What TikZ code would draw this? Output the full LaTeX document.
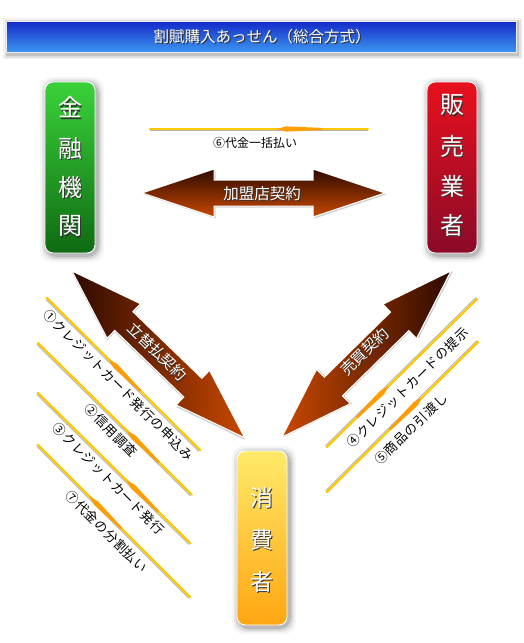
\documentclass[tikz,border=0pt]{standalone}
\usepackage{fontspec}
\setmainfont{Noto Sans CJK JP}
\newfontfamily\jpls[LetterSpace=6]{Noto Sans CJK JP}
\usetikzlibrary{calc}
\definecolor{brdark}{HTML}{2E0A00}
\definecolor{brlight}{HTML}{C84800}
\definecolor{grtop}{HTML}{3AD23A}
\definecolor{grbot}{HTML}{0F6A12}
\definecolor{rdtop}{HTML}{E8101E}
\definecolor{rdbot}{HTML}{8A0A28}
\definecolor{yltop}{HTML}{FFEA6A}
\definecolor{ylbot}{HTML}{FFA612}
\definecolor{bltop}{HTML}{1428C8}
\definecolor{blbot}{HTML}{3C96F0}
\definecolor{lnyel}{HTML}{FFC800}
\definecolor{lnorg}{HTML}{FF9E00}
\tikzset{
  boxst/.style={draw=white, line width=0.9pt, rounded corners=8pt, inner sep=0pt,
    minimum width=50pt},
  wtxt/.style={text=white, inner sep=0pt},
  ltxt/.style={text=black, inner sep=0pt, font=\jpls\fontsize{13}{13}\selectfont},
  arrowst/.style={draw=white, line width=1pt},
}
% glow shadow for a rectangle x1 y1 x2 y2
\newcommand\glow[4]{%
  \foreach \s/\o in {7/0.04,5/0.06,3.5/0.08,2/0.12}{%
    \fill[black,opacity=\o,rounded corners=12pt] (#1-\s+2,#2-\s+2) rectangle (#3+\s+2,#4+\s+2);}}
% white text with a dark shadow inside one node
\newcommand\shd[1]{\leavevmode\rlap{\kern1.3pt\raisebox{-1.3pt}{\color{black!80}#1}}#1}
% white text node: name, x, y, size, rotation, text
\newcommand\wt[6]{%
  \node[wtxt, font=\fontsize{#4}{#4}\selectfont, rotate=#5] (#1) at (#2,#3) {\shd{#6}};}
% thin spear line: start, angle, length, tip distance
\newcommand\spear[4]{%
  \begin{scope}[shift={#1}, rotate=#2]
    \draw[line width=0.9pt, black!30] (0,1.8) -- (#3,1.8);
    \draw[line width=2.2pt, lnyel, line cap=round] (0,0) -- (#3,0);
    \fill[lnorg] (#4,0) -- (#4+9,-2.6) -- (#4+45,-1.1) -- (#4+45,1.1) -- (#4+9,2.6) -- cycle;
  \end{scope}}
% big double arrow: start, angle, length, shading options
\newcommand\bigarrow[4]{%
  \begin{scope}[shift={#1}, rotate=#2]
    \fill[black, opacity=0.18, shift={(1.5,1.5)}] (0,0) -- (72,-24) -- (72,-13) -- (#3-72,-13) -- (#3-72,-24) -- (#3,0) -- (#3-72,24) -- (#3-72,13) -- (72,13) -- (72,24) -- cycle;
    \path[arrowst, #4] (0,0) -- (72,-24) -- (72,-13) -- (#3-72,-13) -- (#3-72,-24) -- (#3,0) -- (#3-72,24) -- (#3-72,13) -- (72,13) -- (72,24) -- cycle;
  \end{scope}}
\begin{document}
\begin{tikzpicture}[x=1pt,y=-1pt]
\useasboundingbox (0,0) rectangle (523,643);
\fill[white] (0,0) rectangle (523,643);

% title bar
\foreach \s/\o in {5/0.05,3.5/0.08,2/0.12}{%
  \fill[black,opacity=\o] (6-\s+2,21-\s+2) rectangle (516+\s+1,52+\s+2);}
\node[draw=white!85!gray, line width=0.8pt, top color=bltop, bottom color=blbot,
  minimum width=510pt, minimum height=31pt, inner sep=0pt] (title) at (261,36.5) {};
\wt{titletext}{262}{37}{15.5}{0}{割賦購入あっせん（総合方式）}

% boxes
\glow{45}{82}{95}{253}
\node[boxst, top color=grtop, bottom color=grbot, minimum height=171pt] (kin) at (70,167.5) {};
\glow{427}{82}{477}{253}
\node[boxst, top color=rdtop, bottom color=rdbot, minimum height=171pt] (han) at (452,167.5) {};
\glow{237}{451}{287}{625}
\node[boxst, top color=yltop, bottom color=ylbot, minimum height=174pt] (sho) at (262,538) {};

\wt{k1}{70}{108}{24}{0}{金}
\wt{k2}{70}{149}{24}{0}{融}
\wt{k3}{70}{188}{24}{0}{機}
\wt{k4}{70}{227}{24}{0}{関}
\wt{h1}{452}{106}{24}{0}{販}
\wt{h2}{452}{147}{24}{0}{売}
\wt{h3}{452}{187}{24}{0}{業}
\wt{h4}{452}{226}{24}{0}{者}
\wt{s1}{262}{498}{23}{0}{消}
\wt{s2}{262}{540}{23}{0}{費}
\wt{s3}{262}{582}{23}{0}{者}

% big arrows
\bigarrow{(142,193)}{0}{243}{top color=brdark, bottom color=brlight}
\wt{kamei}{262}{194}{15.5}{0}{加盟店契約}
\bigarrow{(72,271)}{-44}{240}{left color=brdark, right color=brlight}
\wt{tatekae}{157}{352}{15}{-44}{立替払契約}
\bigarrow{(282,437)}{44.5}{237}{left color=brlight, right color=brdark}
\wt{baibai}{365}{352}{15}{44.5}{売買契約}

% thin spear lines
\spear{(150,129)}{0}{218}{127}
\node[inner sep=0pt, font=\fontsize{12}{12}\selectfont] (l6) at (255,143) {⑥代金一括払い};

\spear{(47,298)}{-44.8}{216}{87}
\node[ltxt, rotate=-45] (l1) at (118.5,385) {①クレジットカード発行の申込み};
\spear{(38,343)}{-44.6}{216}{125}
\node[ltxt, rotate=-45] (l2) at (111,430.5) {②信用調査};
\spear{(38,393)}{-44.6}{214}{124}
\node[ltxt, rotate=-45] (l3) at (108.5,478.5) {③クレジットカード発行};
\spear{(38,445)}{-45}{215}{73}
\node[ltxt, rotate=-45] (l7) at (106.5,531.5) {⑦代金の分割払い};

\spear{(477,299)}{-135.4}{211}{124}
\node[ltxt, rotate=44.6] (l4) at (407.5,387.5) {④クレジットカードの提示};
\spear{(478,342)}{-135.2}{213}{79}
\node[ltxt, rotate=44] (l5) at (411,429) {⑤商品の引渡し};
\end{tikzpicture}
\end{document}
